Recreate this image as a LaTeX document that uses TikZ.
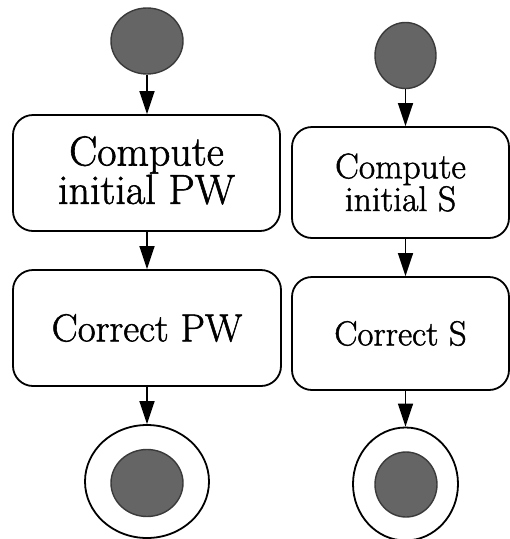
\documentclass[tikz,border=0pt]{standalone}
\usepackage{fontspec}
\newfontfamily\labelfont{Latin Modern Roman}[FakeBold=1.4]
\usetikzlibrary{shapes.geometric,arrows.meta}
\definecolor{dotfill}{HTML}{656565}
\definecolor{dotline}{HTML}{3A3A3A}
\begin{document}
\begin{tikzpicture}[x=1pt,y=-1pt,
  actbox/.style={draw=black,line width=1.8pt,rounded corners=20pt,align=center,inner sep=0pt,fill=white,font=\labelfont},
  dot/.style={ellipse,draw=dotline,line width=1.4pt,fill=dotfill,inner sep=0pt},
  ring/.style={ellipse,draw=black,line width=1.8pt,fill=white,inner sep=0pt},
  flow/.style={line width=1.6pt,-{Triangle[length=23pt,width=15pt]},shorten >=0pt}]
\useasboundingbox (0,0) rectangle (510,539);
% left column
\node[dot,minimum width=72pt,minimum height=66pt] (ls) at (147,41) {};
\node[actbox,minimum width=267pt,minimum height=116pt] (lc) at (146.5,173)
  {\fontsize{42}{37}\selectfont Compute\\ \fontsize{42}{37}\selectfont initial PW\\[-6pt]};
\node[actbox,minimum width=268pt,minimum height=116pt] (lk) at (147,328)
  {\fontsize{39}{40}\selectfont Correct PW};
\node[ring,minimum width=124pt,minimum height=113pt] (le) at (147,481.5) {};
\node[dot,minimum width=72pt,minimum height=67pt] (lei) at (147,483) {};
% right column
\node[dot,minimum width=61pt,minimum height=66pt] (rs) at (405.5,55.5) {};
\node[actbox,minimum width=217pt,minimum height=111pt] (rc) at (400.5,182.5)
  {\fontsize{35.5}{35}\selectfont Compute\\ \fontsize{35.5}{35}\selectfont initial S};
\node[actbox,minimum width=217pt,minimum height=113pt] (rk) at (400.5,333.5)
  {\fontsize{34.7}{35}\selectfont Correct S};
\node[ring,minimum width=105pt,minimum height=113pt] (re) at (405.5,484) {};
\node[dot,minimum width=62pt,minimum height=65pt] (rei) at (406,484.5) {};
% connectors
\draw[flow] (ls.south) -- (ls.south |- lc.north);
\draw[flow] (ls.south |- lc.south) -- (ls.south |- lk.north);
\draw[flow] (ls.south |- lk.south) -- (le.north);
\draw[flow] (rs.south) -- (rs.south |- rc.north);
\draw[flow] (rs.south |- rc.south) -- (rs.south |- rk.north);
\draw[flow] (rs.south |- rk.south) -- (re.north);
\end{tikzpicture}
\end{document}
